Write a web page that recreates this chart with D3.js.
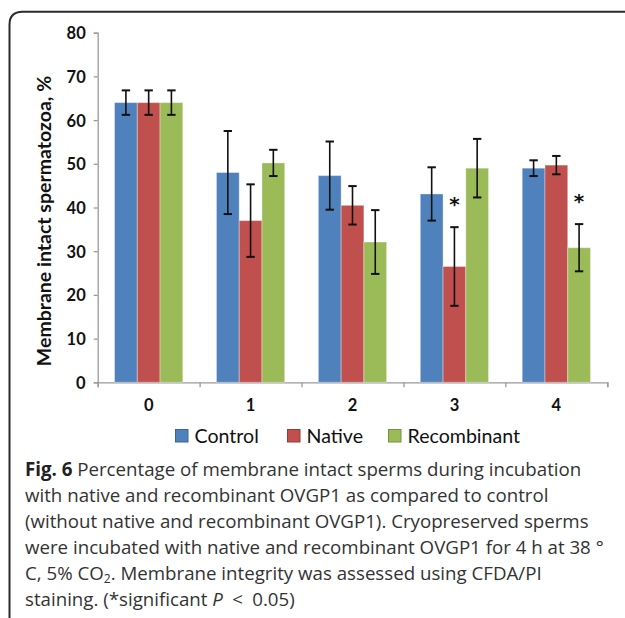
<!DOCTYPE html>
<html>
<head>
<meta charset="utf-8">
<script src="https://cdn.jsdelivr.net/npm/d3@7"></script>
<style>
  html, body { margin: 0; padding: 0; background: #fff; }
  svg { display: block; }
</style>
</head>
<body>
<svg id="fig" width="625" height="618"></svg>
<script>
// Incubation time (h) on the x axis
const categories = ["0", "1", "2", "3", "4"];
const seriesNames = ["Control", "Native", "Recombinant"];
const seriesColors = ["#4f81bd", "#c0504d", "#9bbb59"];
const legendEdge = ["#3a6596", "#943c3a", "#76923f"];

// Mean membrane-intact spermatozoa (%) per series, one entry per time point
const controlMeans = [64.0, 48.0, 47.3, 43.1, 49.0];
const nativeMeans = [64.0, 37.0, 40.5, 26.5, 49.7];
const recombinantMeans = [64.0, 50.2, 32.1, 49.0, 30.8];

// Error bar half-widths (SD)
const controlErr = [2.8, 9.5, 7.8, 6.1, 1.8];
const nativeErr = [2.8, 8.3, 4.4, 9.0, 2.1];
const recombinantErr = [2.8, 3.0, 7.3, 6.7, 5.4];

// Significance marks (* P < 0.05): [time point, series]
const significant = [["3", "Native"], ["4", "Recombinant"]];

const yTicks = [0, 10, 20, 30, 40, 50, 60, 70, 80];
const yTitle = "Membrane intact spermatozoa, %";

const means = [controlMeans, nativeMeans, recombinantMeans];
const errs = [controlErr, nativeErr, recombinantErr];
const rows = [];
categories.forEach((c, i) => {
  seriesNames.forEach((s, j) => {
    rows.push({ cat: c, series: s, value: means[j][i], err: errs[j][i], color: seriesColors[j] });
  });
});

const svg = d3.select("#fig");
const chartFont = "Lato, 'Open Sans', sans-serif";

// Frame around figure and caption
const fx = 9.5, fy = 11.7, fr = 13;
svg.append("path")
  .attr("d", `M${fx},620 L${fx},${fy + fr} Q${fx},${fy} ${fx + fr},${fy} L630,${fy}`)
  .attr("fill", "none")
  .attr("stroke", "#2b2b2b")
  .attr("stroke-width", 2);

// Plot area
const plotL = 97.7, plotR = 607.3, plotT = 32.7, plotB = 382.3;
const y = d3.scaleLinear().domain([0, 80]).range([plotB, plotT]);
const x0 = d3.scaleBand().domain(categories).range([plotL, plotR]).padding(0);
const x1 = d3.scaleBand().domain(seriesNames).range([0, x0.bandwidth()]).paddingInner(0).paddingOuter(0.74);
const xEdges = d3.scaleLinear().domain([0, categories.length]).range([plotL, plotR]);

const axisColor = "#9a9a9a";

// Y axis
const yAxis = svg.append("g")
  .attr("transform", `translate(${plotL},0)`)
  .call(d3.axisLeft(y).tickValues(yTicks).tickSize(4).tickPadding(8));
yAxis.select(".domain").attr("stroke", axisColor).attr("stroke-width", 1.3);
yAxis.selectAll(".tick line").attr("stroke", axisColor).attr("stroke-width", 1.3);
yAxis.selectAll(".tick text")
  .attr("font-family", chartFont).attr("font-weight", 700).attr("font-size", 16.5)
  .attr("fill", "#111").attr("dy", "0.36em");

// X axis: boundary ticks, then centered category labels
const xAxis = svg.append("g")
  .attr("transform", `translate(0,${plotB})`)
  .call(d3.axisBottom(xEdges).tickValues(d3.range(categories.length + 1)).tickSize(5).tickFormat(""));
xAxis.select(".domain").attr("stroke", axisColor).attr("stroke-width", 1.3);
xAxis.selectAll(".tick line").attr("stroke", axisColor).attr("stroke-width", 1.3);

const xLabels = svg.append("g")
  .attr("transform", `translate(0,${plotB})`)
  .call(d3.axisBottom(x0).tickSize(0).tickPadding(17));
xLabels.select(".domain").remove();
xLabels.selectAll(".tick text")
  .attr("font-family", chartFont).attr("font-weight", 700).attr("font-size", 16.5).attr("fill", "#111");

// Y axis title
svg.append("text")
  .attr("transform", `translate(51,221) rotate(-90)`)
  .attr("text-anchor", "middle")
  .attr("font-family", chartFont).attr("font-weight", 700).attr("font-size", 19.5)
  .attr("fill", "#111")
  .text(yTitle);

// Bars
const bars = svg.append("g");
bars.selectAll("rect")
  .data(rows)
  .join("rect")
  .attr("x", d => x0(d.cat) + x1(d.series))
  .attr("y", d => y(d.value))
  .attr("width", x1.bandwidth())
  .attr("height", d => y(0) - y(d.value))
  .attr("fill", d => d.color)
  .attr("stroke", "rgba(255,255,255,0.35)")
  .attr("stroke-width", 1);

// Error bars
const capHalf = 4.2;
const eb = svg.append("g").attr("stroke", "#111").attr("stroke-width", 1.6);
rows.forEach(d => {
  const cx = x0(d.cat) + x1(d.series) + x1.bandwidth() / 2;
  const yt = y(d.value + d.err), yb = y(d.value - d.err);
  eb.append("line").attr("x1", cx).attr("x2", cx).attr("y1", yt).attr("y2", yb);
  eb.append("line").attr("x1", cx - capHalf).attr("x2", cx + capHalf).attr("y1", yt).attr("y2", yt).attr("stroke-width", 2);
  eb.append("line").attr("x1", cx - capHalf).attr("x2", cx + capHalf).attr("y1", yb).attr("y2", yb).attr("stroke-width", 2);
});

// Significance asterisks above the error bars
significant.forEach(([c, s]) => {
  const d = rows.find(r => r.cat === c && r.series === s);
  const cx = x0(c) + x1(s) + x1.bandwidth() / 2;
  svg.append("text")
    .attr("x", cx)
    .attr("y", y(d.value + d.err) - 16)
    .attr("text-anchor", "middle")
    .attr("font-family", "'DejaVu Sans', sans-serif").attr("font-weight", 700).attr("font-size", 20)
    .attr("fill", "#111")
    .text("*");
});

// Legend
const legendItems = [
  { name: "Control", x: 175 },
  { name: "Native", x: 287 },
  { name: "Recombinant", x: 388 }
];
const lg = svg.append("g");
legendItems.forEach((it, i) => {
  lg.append("rect")
    .attr("x", it.x + 0.5).attr("y", 429.5)
    .attr("width", 12.5).attr("height", 12.5)
    .attr("fill", seriesColors[i])
    .attr("stroke", legendEdge[i]).attr("stroke-width", 1);
  lg.append("text")
    .attr("x", it.x + 19.5).attr("y", 443)
    .attr("font-family", chartFont).attr("font-weight", 400).attr("font-size", 19.6)
    .attr("fill", "#111")
    .text(it.name);
});

// Caption
const capFont = "'Open Sans', 'Noto Sans', sans-serif";
const capSize = 18.7;
const capColor = "#333";
const capX = 25;
const capLines = [
  [{ t: "Fig. 6", b: true }, { t: " Percentage of membrane intact sperms during incubation" }],
  [{ t: "with native and recombinant OVGP1 as compared to control" }],
  [{ t: "(without native and recombinant OVGP1). Cryopreserved sperms" }],
  [{ t: "were incubated with native and recombinant OVGP1 for 4 h at 38 °" }],
  [{ t: "C, 5% CO" }, { t: "2", sub: true }, { t: ". Membrane integrity was assessed using CFDA/PI", after: true }],
  [{ t: "staining. (*significant " }, { t: "P", i: true }, { t: "\u2002<\u20020.05)" }]
];
const cap = svg.append("g")
  .attr("font-family", capFont).attr("font-size", capSize).attr("fill", capColor);
capLines.forEach((parts, k) => {
  const t = cap.append("text").attr("x", capX).attr("y", 475.5 + k * 26).attr("xml:space", "preserve");
  parts.forEach(p => {
    const ts = t.append("tspan").text(p.t);
    if (p.b) ts.attr("font-weight", 700).attr("fill", "#222");
    if (p.i) ts.attr("font-style", "italic");
    if (p.sub) ts.attr("font-size", capSize * 0.65).attr("dy", 3);
    if (p.after) ts.attr("dy", -3);
  });
});
</script>
</body>
</html>
